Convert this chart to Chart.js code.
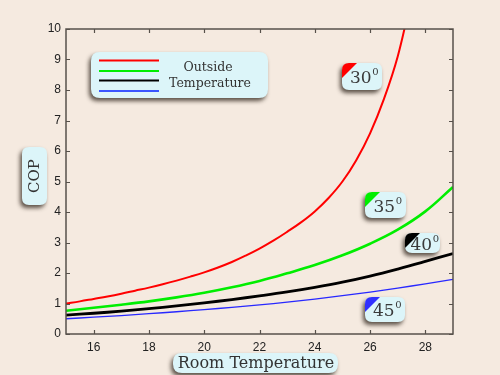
<!DOCTYPE html>
<html>
<head>
<meta charset="utf-8">
<script src="https://cdn.jsdelivr.net/npm/chart.js@4/dist/chart.umd.min.js"></script>
<style>
html,body{margin:0;padding:0;background:#F5EAE0;}
#c{display:block;}
</style>
</head>
<body>
<canvas id="c" width="500" height="375"></canvas>
<script>
// ---- data ----
const roomTemps = [15,16,17,18,19,20,21,22,23,24,25,26,27,28,29];
const redTemps  = [15,15.5,16,16.5,17,17.5,18,18.5,19,19.5,20,20.5,21,21.5,22,22.5,23,23.5,24,24.5,25,25.5,26,26.5,27,27.5];
const cop30 = [1.00,1.07,1.15,1.23,1.32,1.42,1.52,1.63,1.75,1.88,2.02,2.18,2.36,2.57,2.80,3.06,3.35,3.66,4.02,4.46,5.00,5.70,6.58,7.70,9.10,11.05];
const cop35 = [0.76,0.86,0.96,1.07,1.20,1.35,1.53,1.74,1.99,2.26,2.58,2.96,3.42,4.02,4.82];
const cop40 = [0.62,0.68,0.75,0.83,0.92,1.02,1.13,1.25,1.38,1.53,1.70,1.90,2.13,2.38,2.64];
const cop45 = [0.50,0.55,0.605,0.665,0.73,0.80,0.875,0.955,1.045,1.145,1.255,1.375,1.505,1.645,1.79];
const xTicks = [16,18,20,22,24,26,28];
const yTicks = [0,1,2,3,4,5,6,7,8,9,10];
const seriesLabels = ['30','35','40','45'];
const legendText = ['Outside','Temperature'];
const xTitle = 'Room Temperature';
const yTitle = 'COP';

const pts = (xs, ys) => xs.map((x,i)=>({x:x, y:ys[i]}));

function roundRect(ctx,x,y,w,h,r){
  ctx.beginPath();
  ctx.moveTo(x+r,y);
  ctx.lineTo(x+w-r,y);
  ctx.quadraticCurveTo(x+w,y,x+w,y+r);
  ctx.lineTo(x+w,y+h-r);
  ctx.quadraticCurveTo(x+w,y+h,x+w-r,y+h);
  ctx.lineTo(x+r,y+h);
  ctx.quadraticCurveTo(x,y+h,x,y+h-r);
  ctx.lineTo(x,y+r);
  ctx.quadraticCurveTo(x,y,x+r,y);
  ctx.closePath();
}
function panel(ctx,x,y,w,h,r){
  ctx.save();
  ctx.shadowColor='rgba(40,30,20,0.75)';
  ctx.shadowBlur=4;
  ctx.shadowOffsetX=-2;
  ctx.shadowOffsetY=3;
  ctx.fillStyle='#DCF5F9';
  roundRect(ctx,x,y,w,h,r);
  ctx.fill();
  ctx.restore();
}
function badge(ctx,x,y,w,h,color,label){
  panel(ctx,x,y,w,h,7);
  ctx.save();
  roundRect(ctx,x,y,w,h,7);
  ctx.clip();
  ctx.fillStyle=color;
  ctx.beginPath();
  ctx.moveTo(x,y);
  ctx.lineTo(x+15,y);
  ctx.lineTo(x,y+15);
  ctx.closePath();
  ctx.fill();
  ctx.restore();
  ctx.save();
  ctx.fillStyle='#3a3a3a';
  ctx.textBaseline='alphabetic';
  ctx.textAlign='left';
  ctx.font='17px "DejaVu Serif"';
  const tw = ctx.measureText(label).width;
  ctx.font='10px "DejaVu Serif"';
  const sw = ctx.measureText('0').width;
  const tx = x + (w - tw - sw)/2 + 2;
  const by = y + h/2 + 6.5;
  ctx.font='17px "DejaVu Serif"';
  ctx.fillText(label,tx,by);
  ctx.font='10px "DejaVu Serif"';
  ctx.fillText('0',tx+tw+0.5,by-8);
  ctx.restore();
}

const decor = {
  id:'decor',
  beforeDraw(chart){
    const ctx=chart.ctx;
    ctx.save();
    ctx.fillStyle='#F5EAE0';
    ctx.fillRect(0,0,chart.width,chart.height);
    ctx.restore();
  },
  afterDraw(chart){
    const ctx=chart.ctx, a=chart.chartArea;
    const xs=chart.scales.x, ys=chart.scales.y;
    ctx.save();
    ctx.strokeStyle='#57514b';
    ctx.lineWidth=1.5;
    ctx.strokeRect(a.left,a.top,a.right-a.left,a.bottom-a.top);
    ctx.lineWidth=1.2;
    ctx.beginPath();
    xTicks.forEach(v=>{
      const px=Math.round(xs.getPixelForValue(v))+0.5;
      ctx.moveTo(px,a.bottom); ctx.lineTo(px,a.bottom-4);
      ctx.moveTo(px,a.top); ctx.lineTo(px,a.top+4);
    });
    yTicks.forEach(v=>{
      const py=Math.round(ys.getPixelForValue(v))+0.5;
      ctx.moveTo(a.left,py); ctx.lineTo(a.left+4,py);
      ctx.moveTo(a.right,py); ctx.lineTo(a.right-4,py);
    });
    ctx.stroke();
    ctx.restore();

    // legend panel
    panel(ctx,91,52,177,46,9);
    const colors=['#FF0000','#00EE00','#000000','#3A55FF'];
    const ly=[60.5,71,80.5,91];
    ctx.save();
    colors.forEach((c,i)=>{
      ctx.strokeStyle=c; ctx.lineWidth=2;
      ctx.beginPath(); ctx.moveTo(99,ly[i]); ctx.lineTo(159,ly[i]); ctx.stroke();
    });
    ctx.fillStyle='#333';
    ctx.font='12.5px "DejaVu Serif"';
    ctx.textAlign='center'; ctx.textBaseline='middle';
    ctx.fillText(legendText[0],208,68);
    ctx.fillText(legendText[1],210,83.5);
    ctx.restore();

    // badges
    badge(ctx,342,63,40,27,'#FF0000',seriesLabels[0]);
    badge(ctx,365,192,41,26,'#00EE00',seriesLabels[1]);
    badge(ctx,405,233,35,20,'#000000',seriesLabels[2]);
    badge(ctx,365,297,40,25,'#3030FF',seriesLabels[3]);

    // axis titles
    panel(ctx,22,147,25,58,7);
    ctx.save();
    ctx.fillStyle='#333';
    ctx.font='15px "DejaVu Serif"';
    ctx.textAlign='center'; ctx.textBaseline='middle';
    ctx.translate(35,176);
    ctx.rotate(-Math.PI/2);
    ctx.fillText(yTitle,0,0);
    ctx.restore();

    panel(ctx,173,353,165,20,9);
    ctx.save();
    ctx.fillStyle='#333';
    ctx.font='16px "DejaVu Serif"';
    ctx.textAlign='center'; ctx.textBaseline='middle';
    ctx.fillText(xTitle,256,363.5);
    ctx.restore();
  }
};

new Chart(document.getElementById('c'),{
  type:'line',
  data:{
    datasets:[
      {label:seriesLabels[0],data:pts(redTemps,cop30),borderColor:'#FF0000',borderWidth:2},
      {label:seriesLabels[1],data:pts(roomTemps,cop35),borderColor:'#00EE00',borderWidth:2.6},
      {label:seriesLabels[2],data:pts(roomTemps,cop40),borderColor:'#000000',borderWidth:2.8},
      {label:seriesLabels[3],data:pts(roomTemps,cop45),borderColor:'#2828FF',borderWidth:1.3}
    ]
  },
  options:{
    responsive:false,
    animation:false,
    devicePixelRatio:1,
    layout:{padding:{top:29,right:47,left:0,bottom:0}},
    elements:{
      point:{radius:0,hoverRadius:0},
      line:{tension:0.4,fill:false,capBezierPoints:false}
    },
    plugins:{legend:{display:false},tooltip:{enabled:false}},
    scales:{
      x:{
        type:'linear',min:15,max:29,
        afterBuildTicks(s){ s.ticks = xTicks.map(v=>({value:v})); },
        afterFit(s){ s.height = 41; },
        grid:{display:false,drawTicks:false},
        border:{display:false},
        ticks:{padding:6,color:'#222',font:{family:'"Liberation Sans", Arial',size:12}}
      },
      y:{
        type:'linear',min:0,max:10,
        afterBuildTicks(s){ s.ticks = yTicks.map(v=>({value:v})); },
        afterFit(s){ s.width = 66; },
        grid:{display:false,drawTicks:false},
        border:{display:false},
        ticks:{padding:5,color:'#222',font:{family:'"Liberation Sans", Arial',size:12}}
      }
    }
  },
  plugins:[decor]
});
</script>
</body>
</html>
